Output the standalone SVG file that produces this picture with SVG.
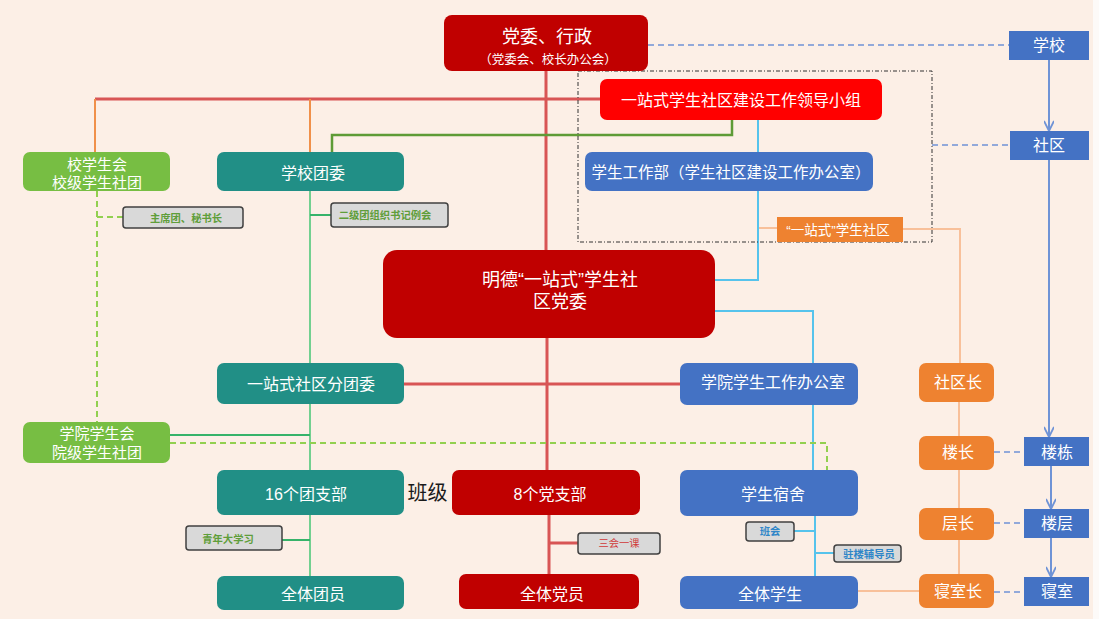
<svg xmlns="http://www.w3.org/2000/svg" width="1099" height="619" viewBox="0 0 1099 619">
<defs>
<style>
text{font-family:"Liberation Sans","Noto Sans CJK SC",sans-serif;fill:#fff;text-anchor:middle;dominant-baseline:central}
.t16{font-size:16px}
.lbl{fill:#d9d9d9;stroke:#404040;stroke-width:1.5}
.lt{font-size:10.3px;font-weight:bold}
.g{fill:#5f9e3a}
.r{fill:#d03838;font-weight:normal}
.b{fill:#2e86c8}
.red{stroke:#d85555;stroke-width:3;fill:none}
.or{stroke:#f0904a;stroke-width:2;fill:none}
.lor{stroke:#f8c09a;stroke-width:2;fill:none}
.dg{stroke:#5e9b36;stroke-width:2.5;fill:none}
.lb{stroke:#56c3ec;stroke-width:2;fill:none}
.gr1{stroke:#72d090;stroke-width:2;fill:none}
.gr2{stroke:#36b36a;stroke-width:2;fill:none}
.gd{stroke:#92d050;stroke-width:2;fill:none;stroke-dasharray:6,4}
.bd{stroke:#6f93d6;stroke-width:1.5;fill:none;stroke-dasharray:6,4}
.ba{stroke:#6f93d6;stroke-width:2;fill:none;marker-end:url(#arr)}
</style>
<marker id="arr" viewBox="0 0 12 10" refX="11" refY="5" markerWidth="12" markerHeight="10" markerUnits="userSpaceOnUse" orient="auto">
<path d="M1,0 L11,5 L1,10" fill="none" stroke="#6f93d6" stroke-width="1.8"/>
</marker>
</defs>
<rect width="1099" height="619" fill="#fcefe6"/>
<rect x="1093" y="0" width="6" height="619" fill="#fdfaf8"/>

<g id="connectors">
<path class="red" d="M546,71 V250 M547,338 V470 M549,515 V574 M549,543 H578"/>
<path class="red" d="M95,99 H600"/>
<path class="red" d="M404,384 H680"/>
<path class="or" d="M95,99 V152 M310,99 V152"/>
<path class="dg" d="M732,120 V135 H332 V152"/>
<path class="lb" d="M758,120 V152 M758,191 V280 H715"/>
<path class="lb" d="M715,311 H813 V363 M813,405 V470 M815,516 V576 M794,531 H815 M815,553 H834"/>
<path class="lor" d="M759,228 H777 M903,229 H960 V363 M959,402 V436 M959,470 V508 M959,540 V574 M858,591 H919"/>
<path class="gr1" d="M310,191 V363 M310,404 V470 M310,515 V576"/>
<path class="gr2" d="M310,215 H331 M170,435 H310 M282,540 H310"/>
<path class="gd" d="M97,191 V422 M97,217 H123 M170,443 H827 V470"/>
<path d="M578,71 H932 V242 H578 Z" fill="none" stroke="#333" stroke-width="1" stroke-dasharray="4,2,1,2"/>
<path class="bd" d="M648,45 H1009 M932,145 H1010 M994,452 H1024 M994,523 H1024 M994,592 H1024"/>
<path class="ba" d="M1049,60 V131"/>
<path class="ba" d="M1049,160 V437"/>
<path class="ba" d="M1051,466 V509"/>
<path class="ba" d="M1051,538 V577"/>
</g>

<g id="dangwei"><rect x="444" y="15" width="204" height="56" rx="8" fill="#c00000"/><text x="547" y="37" style="font-size:18px">党委、行政</text><text x="548" y="60" style="font-size:12.5px">（党委会、校长办公会）</text></g>
<g id="lingdao"><rect x="600" y="79" width="282" height="41" rx="7" fill="#ff0000"/><text class="t16" x="741" y="100">一站式学生社区建设工作领导小组</text></g>
<g id="xuegongbu"><rect x="585" y="152" width="288" height="39" rx="7" fill="#4472c4"/><text x="731" y="172" style="font-size:15.5px">学生工作部（学生社区建设工作办公室）</text></g>
<g id="shequ-label"><rect x="777" y="217" width="126" height="25" fill="#ee8230"/><text x="838" y="230" style="font-size:13.5px">“一站式”学生社区</text></g>
<g id="xuexiao"><rect x="1009" y="31" width="80" height="29" fill="#4472c4"/><text class="t16" x="1049" y="45.5">学校</text></g>
<g id="shequ"><rect x="1010" y="131" width="79" height="29" fill="#4472c4"/><text class="t16" x="1049" y="145.5">社区</text></g>
<g id="loudong"><rect x="1024" y="437" width="65" height="29" fill="#4472c4"/><text class="t16" x="1057" y="452">楼栋</text></g>
<g id="louceng"><rect x="1024" y="509" width="65" height="29" fill="#4472c4"/><text class="t16" x="1057" y="523">楼层</text></g>
<g id="qinshi"><rect x="1024" y="577" width="65" height="29" fill="#4472c4"/><text class="t16" x="1057" y="591">寝室</text></g>
<g id="shequzhang"><rect x="919" y="363" width="75" height="39" rx="7" fill="#ee8230"/><text class="t16" x="958" y="382.5">社区长</text></g>
<g id="louzhang"><rect x="919" y="436" width="75" height="34" rx="7" fill="#ee8230"/><text class="t16" x="958" y="452.5">楼长</text></g>
<g id="cengzhang"><rect x="919" y="508" width="75" height="32" rx="7" fill="#ee8230"/><text class="t16" x="958" y="523">层长</text></g>
<g id="qinshizhang"><rect x="919" y="574" width="75" height="34" rx="7" fill="#ee8230"/><text class="t16" x="958" y="591">寝室长</text></g>

<g id="xiaoxueshenghui"><rect x="23" y="152" width="147" height="39" rx="7" fill="#77be43"/><text x="97" y="164" style="font-size:15px">校学生会</text><text x="97" y="182" style="font-size:15px">校级学生社团</text></g>
<g id="tuanwei"><rect x="217" y="152" width="187" height="39" rx="7" fill="#218f86"/><text class="t16" x="313" y="173">学校团委</text></g>
<g id="zhuxituan"><rect class="lbl" x="123" y="207" width="120" height="21" rx="3"/><text class="lt g" x="186" y="218">主席团、秘书长</text></g>
<g id="erji"><rect class="lbl" x="331" y="203" width="117" height="24" rx="3"/><text class="lt g" x="385" y="215">二级团组织书记例会</text></g>
<g id="mingde"><rect x="383" y="250" width="332" height="88" rx="14" fill="#c00000"/><text x="560" y="280" style="font-size:18px">明德“一站式”学生社</text><text x="560" y="302" style="font-size:18px">区党委</text></g>
<g id="fentuanwei"><rect x="217" y="363" width="187" height="41" rx="7" fill="#218f86"/><text class="t16" x="311" y="384">一站式社区分团委</text></g>
<g id="xueyuanxueshenghui"><rect x="23" y="422" width="147" height="41" rx="7" fill="#77be43"/><text x="97" y="433" style="font-size:15px">学院学生会</text><text x="97" y="452" style="font-size:15px">院级学生社团</text></g>
<g id="tuanzhibu"><rect x="217" y="470" width="187" height="45" rx="7" fill="#218f86"/><text class="t16" x="306" y="494">16个团支部</text></g>
<g id="banji"><text x="427.5" y="493" style="font-size:20px;fill:#1a1a1a">班级</text></g>
<g id="qingnian"><rect class="lbl" x="186" y="526" width="96" height="24" rx="3"/><text class="lt g" x="228" y="539">青年大学习</text></g>
<g id="tuanyuan"><rect x="217" y="576" width="187" height="34" rx="7" fill="#218f86"/><text class="t16" x="313" y="594">全体团员</text></g>
<g id="dangzhibu"><rect x="452" y="470" width="188" height="45" rx="7" fill="#c00000"/><text class="t16" x="550" y="494">8个党支部</text></g>
<g id="sanhui"><rect class="lbl" x="578" y="533" width="82" height="21" rx="3"/><text class="lt r" x="619" y="543.5">三会一课</text></g>
<g id="dangyuan"><rect x="459" y="574" width="180" height="35" rx="7" fill="#c00000"/><text class="t16" x="552" y="594">全体党员</text></g>
<g id="xueyuanban"><rect x="680" y="363" width="178" height="42" rx="7" fill="#4472c4"/><text class="t16" x="773" y="382.5">学院学生工作办公室</text></g>
<g id="sushe"><rect x="680" y="470" width="178" height="46" rx="7" fill="#4472c4"/><text class="t16" x="773" y="494">学生宿舍</text></g>
<g id="banhui"><rect class="lbl" x="746" y="522" width="48" height="19" rx="3"/><text class="lt b" x="770" y="531">班会</text></g>
<g id="fudaoyuan"><rect class="lbl" x="834" y="545" width="67" height="17" rx="3"/><text class="lt b" x="869" y="554">驻楼辅导员</text></g>
<g id="xuesheng"><rect x="680" y="576" width="178" height="33" rx="7" fill="#4472c4"/><text class="t16" x="770" y="594">全体学生</text></g>
</svg>
